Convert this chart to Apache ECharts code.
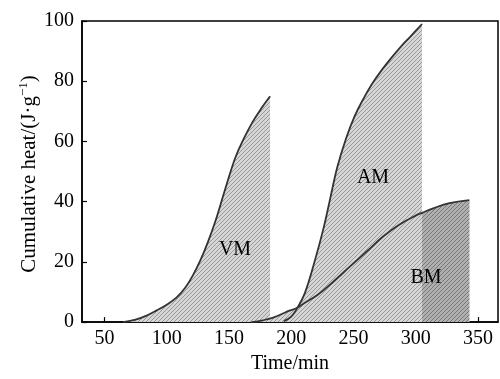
<!DOCTYPE html>
<html>
<head>
<meta charset="utf-8">
<script src="https://cdn.jsdelivr.net/npm/echarts@6/dist/echarts.min.js"></script>
<style>
  html, body { margin: 0; padding: 0; background: #fff; }
  #chart { width: 500px; height: 379px; }
</style>
</head>
<body>
<div id="chart"></div>
<script>
// values: [time (min), cumulative heat (J/g)]
const vmData = [
  [65, 0], [75, 0.8], [84, 2.2], [92, 3.9], [100, 5.8], [108, 8.2], [115, 11.5],
  [121, 15.5], [127, 20.5], [133, 26.5], [139, 33.4], [147, 44.2], [155, 54.5],
  [162, 61], [169, 66.5], [176, 71], [183, 75]
];
const amData = [
  [194, 0.3], [200, 1.8], [205, 4.8], [211, 9.7], [219, 20.5], [226, 31.3],
  [231, 40.5], [237, 51.5], [244, 61], [251, 68.5], [258, 74.2], [266, 79.8],
  [276, 85.5], [287, 91], [296, 95], [305, 99]
];
const bmData = [
  [168, 0], [175, 0.4], [182, 1.1], [186, 1.6], [192, 2.6], [198, 3.7],
  [204, 4.6], [210, 6.2], [221, 9], [234, 13.5], [247, 18.4], [261, 23.6],
  [274, 28.5], [287, 32.4], [301, 35.6], [305, 36.3], [314, 37.8], [327, 39.5],
  [343, 40.5]
];
// part of BM after AM ends, drawn darker
const bmDarkData = [[305, 36.3], [314, 37.8], [327, 39.5], [343, 40.5]];
const xTicks = [50, 100, 150, 200, 250, 300, 350];
const regionLabels = ["VM", "AM", "BM"];

const FONT = "Liberation Serif, Times New Roman, serif";

function hatch(bg, fg) {
  const c = document.createElement("canvas");
  c.width = 4;
  c.height = 4;
  const ctx = c.getContext("2d");
  ctx.fillStyle = bg;
  ctx.fillRect(0, 0, 4, 4);
  ctx.strokeStyle = fg;
  ctx.lineWidth = 1;
  ctx.beginPath();
  ctx.moveTo(-1, 5); ctx.lineTo(5, -1);
  ctx.moveTo(-1, 1); ctx.lineTo(1, -1);
  ctx.moveTo(3, 5); ctx.lineTo(5, 3);
  ctx.stroke();
  return { image: c, repeat: "repeat" };
}

const lightFill = hatch("#d6d6d6", "#999999");
const darkFill = hatch("#b0b0b0", "#777777");

function areaSeries(data, fill) {
  return {
    type: "line",
    data: data,
    smooth: 0.4,
    symbol: "none",
    lineStyle: { width: 0, opacity: 0 },
    areaStyle: { color: fill, opacity: 1 },
    silent: true,
    z: 1
  };
}

function curveSeries(data) {
  return {
    type: "line",
    data: data,
    smooth: 0.4,
    symbol: "none",
    lineStyle: { color: "#333", width: 1.8 },
    silent: true,
    z: 3
  };
}

const chart = echarts.init(document.getElementById("chart"), null, { renderer: "canvas" });

chart.setOption({
  animation: false,
  backgroundColor: "#fff",
  textStyle: { fontFamily: FONT },
  grid: {
    left: 82, right: 2, top: 21, bottom: 49,
    show: true, borderColor: "#000", borderWidth: 1.5, backgroundColor: "transparent"
  },
  xAxis: {
    type: "value",
    min: 32,
    max: 366,
    name: "Time/min",
    nameLocation: "middle",
    nameGap: 30,
    nameTextStyle: { color: "#000", fontSize: 20, fontFamily: FONT },
    axisLine: { lineStyle: { color: "#000", width: 1.5 } },
    axisTick: { inside: true, length: 5, lineStyle: { color: "#000", width: 1.2 }, customValues: xTicks },
    axisLabel: { color: "#000", fontSize: 20, fontFamily: FONT, margin: 7, customValues: xTicks },
    splitLine: { show: false }
  },
  yAxis: {
    type: "value",
    min: 0,
    max: 100,
    interval: 20,
    axisLine: { show: true, lineStyle: { color: "#000", width: 1.5 } },
    axisTick: { show: true, inside: true, length: 5, lineStyle: { color: "#000", width: 1.2 } },
    axisLabel: { color: "#000", fontSize: 20, fontFamily: FONT, margin: 8 },
    splitLine: { show: false }
  },
  series: [
    areaSeries(vmData, lightFill),
    areaSeries(amData, lightFill),
    areaSeries(bmData, lightFill),
    areaSeries(bmDarkData, darkFill),
    curveSeries(vmData),
    curveSeries(amData),
    curveSeries(bmData)
  ],
  graphic: [
    {
      type: "text",
      x: 29, y: 174,
      rotation: Math.PI / 2,
      style: {
        text: "Cumulative heat/(J·g{sup|−1})",
        font: "21px " + FONT,
        fill: "#000",
        align: "center",
        verticalAlign: "middle",
        rich: {
          sup: { fontSize: 13, fontFamily: FONT, fill: "#000", verticalAlign: "bottom", padding: [0, 0, 10, 0] }
        }
      }
    },
    { type: "text", x: 235, y: 250, z: 10, style: { text: regionLabels[0], font: "20px " + FONT, fill: "#000", align: "center", verticalAlign: "middle" } },
    { type: "text", x: 373, y: 178, z: 10, style: { text: regionLabels[1], font: "20px " + FONT, fill: "#000", align: "center", verticalAlign: "middle" } },
    { type: "text", x: 426, y: 278, z: 10, style: { text: regionLabels[2], font: "20px " + FONT, fill: "#000", align: "center", verticalAlign: "middle" } }
  ]
});
</script>
</body>
</html>
